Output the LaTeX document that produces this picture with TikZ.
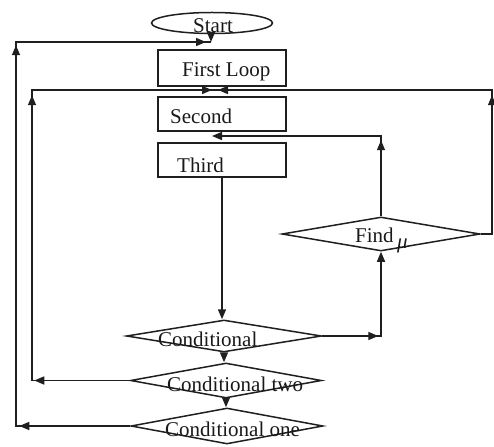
\documentclass[tikz,border=0pt]{standalone}
\usepackage{fontspec}
\setmainfont{Liberation Serif}
\usetikzlibrary{arrows.meta,shapes.geometric,decorations.markings}
\newcommand\mytip{\arrow{Triangle[length=10pt,width=8pt]}}
\begin{document}
\begin{tikzpicture}[x=1pt,y=-1pt,
  ln/.style={draw=black!88, line width=1.5pt},
  arr/.style={ln, -{Triangle[length=10pt,width=8pt]}},
  box/.style={ln, rectangle, minimum width=128pt, inner sep=0pt},
  dia/.style={ln, diamond, inner sep=0pt},
  lbl/.style={font=\fontsize{21}{24}\selectfont, inner sep=0pt, anchor=base west, text=black!90},
  tips/.style={postaction={decorate}, decoration={markings,#1}},
]
\useasboundingbox (0,0) rectangle (494,446);

% nodes
\node[ln, ellipse, minimum width=121pt, minimum height=21pt, inner sep=0pt] (start) at (212,23) {};
\node[lbl] (startt) at (193,33) {Start};

\node[box, minimum height=36pt] (fl) at (222,68) {};
\node[lbl] (flt) at (182,77) {First Loop};
\node[box, minimum height=34pt] (s) at (222,114) {};
\node[lbl] (st) at (170,124) {Second};
\node[box, minimum height=34pt] (t) at (222,160) {};
\node[lbl] (tt) at (177,172) {Third};

\node[dia, minimum width=198pt, minimum height=34pt] (fp) at (381,234) {};
\node[lbl] (fpt) at (355,242) {Find};
\node[lbl] (fpm) at (397,248) {\itshape μ};

\node[dia, minimum width=195pt, minimum height=32pt] (c0) at (224,336) {};
\node[lbl] (c0t) at (158,346) {Conditional};
\node[dia, minimum width=191pt, minimum height=35pt] (c2) at (226,380.5) {};
\node[lbl] (c2t) at (167,391) {Conditional two};
\node[dia, minimum width=192pt, minimum height=36pt] (c1) at (227,426) {};
\node[lbl] (c1t) at (165,436) {Conditional one};

% junctions and corners
\coordinate (j1) at (211,42);
\coordinate (j2) at (215,90);
\coordinate (j3) at (212,136);
\coordinate (k1) at (16,42);
\coordinate (k2) at (32,90);
\coordinate (k3) at (492,90);

% connectors
\draw[arr] (start.south -| j1) -- (j1);
\draw[ln, tips={mark=at position 111pt with {\mytip}, mark=at position 495pt with {\mytip}, mark=at position -5pt with {\mytip}}] (c1.west) -| (k1) -- (j1);
\draw[ln, tips={mark=at position 95.5pt with {\mytip}, mark=at position 383pt with {\mytip}, mark=at position -3pt with {\mytip}}] (c2.west) -| (k2) -- (j2);
\draw[ln, tips={mark=at position 150pt with {\mytip}, mark=at position -3pt with {\mytip}}] (fp.east) -| (k3) -- (j2);
\draw[arr, tips={mark=at position 76pt with {\mytip}}] (fp.north) |- (j3);
\draw[arr] (t.south) -- (t.south |- c0.north);
\draw[arr, tips={mark=at position 56pt with {\mytip}}] (c0.east) -| (fp.south);
\draw[arr] (c0.south) -- (c0.south |- c2.north);
\draw[arr] (c2.south) -- (c2.south |- c1.north);
\end{tikzpicture}
\end{document}
